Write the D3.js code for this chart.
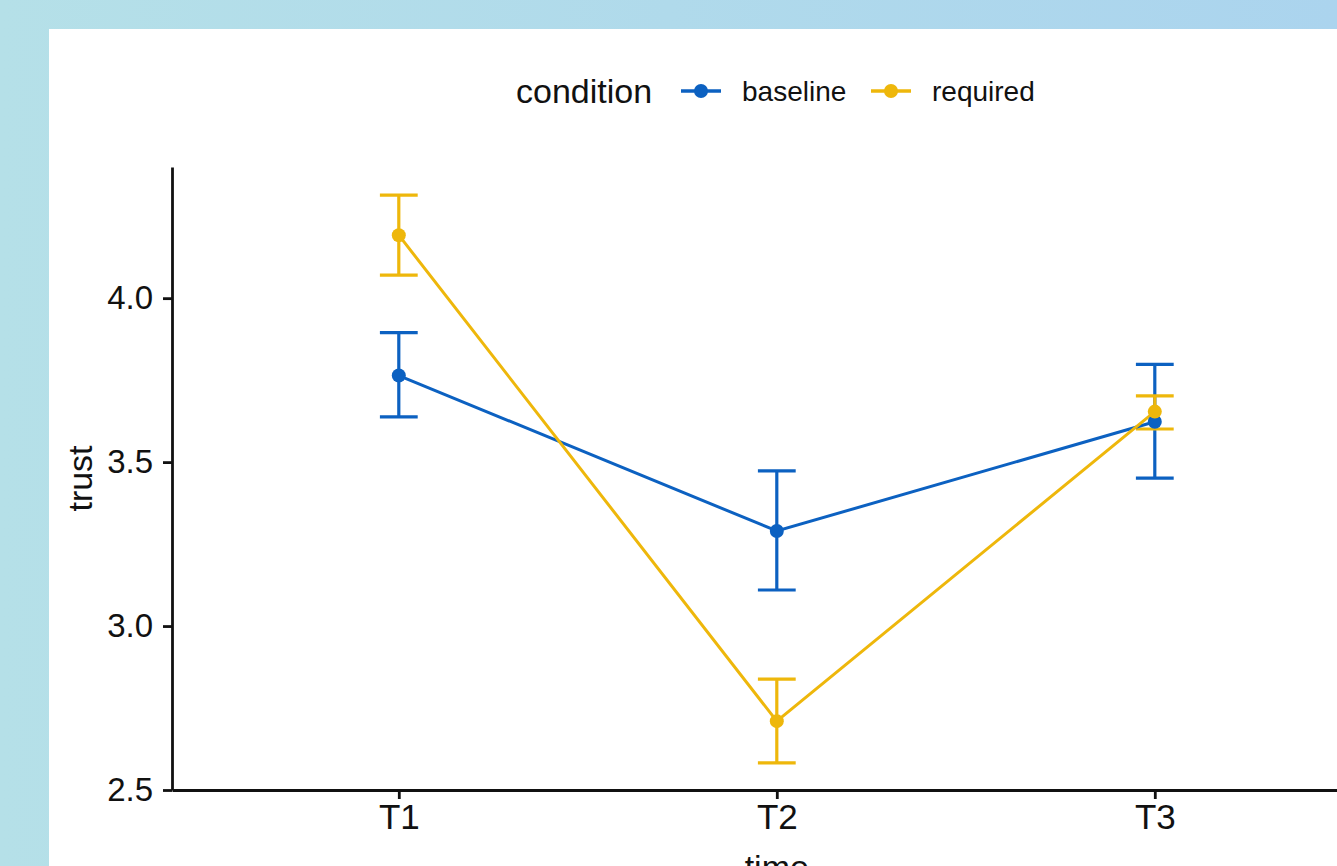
<!DOCTYPE html>
<html>
<head>
<meta charset="utf-8">
<script src="https://cdn.jsdelivr.net/npm/d3@7"></script>
<style>
  html, body { margin: 0; padding: 0; overflow: hidden; }
  svg { display: block; font-family: "Liberation Sans", Arial, Helvetica, sans-serif; }
</style>
</head>
<body>
<svg id="chart"></svg>
<script>
// data
var times = ["T1", "T2", "T3"];
var conditions = ["baseline", "required"];
var baselineMean  = [3.764, 3.290, 3.623];
var baselineLower = [3.638, 3.110, 3.451];
var baselineUpper = [3.895, 3.473, 3.798];
var requiredMean  = [4.192, 2.710, 3.654];
var requiredLower = [4.070, 2.583, 3.601];
var requiredUpper = [4.314, 2.838, 3.702];
var yTicks = [2.5, 3.0, 3.5, 4.0];
var colors = ["#0c61c1", "#eeb70b"];

var W = 1337, H = 866;

var series = [
  { name: conditions[0], color: colors[0], mean: baselineMean, lo: baselineLower, hi: baselineUpper },
  { name: conditions[1], color: colors[1], mean: requiredMean, lo: requiredLower, hi: requiredUpper }
];

var svg = d3.select("#chart").attr("width", W).attr("height", H);

// background: light blue frame, white card
var defs = svg.append("defs");
var grad = defs.append("linearGradient").attr("id", "bg").attr("x1", "0").attr("x2", "1").attr("y1", "0").attr("y2", "0");
grad.append("stop").attr("offset", "0").attr("stop-color", "#b5e0e8");
grad.append("stop").attr("offset", "1").attr("stop-color", "#abd4ee");
svg.append("rect").attr("width", W).attr("height", H).attr("fill", "url(#bg)");
svg.append("rect").attr("x", 49).attr("y", 29).attr("width", W).attr("height", H).attr("fill", "#fff");

var plot = { left: 172, top: 167, bottom: 790, right: 1381.6 };

var x = d3.scalePoint()
  .domain(times)
  .range([plot.left, plot.right])
  .padding(0.6);

var y = d3.scaleLinear()
  .domain([2.5, 4.4])
  .range([plot.bottom, plot.top]);

// axes
var yAxis = svg.append("g")
  .attr("transform", "translate(" + plot.left + ",0)")
  .call(d3.axisLeft(y).tickValues(yTicks).tickFormat(d3.format(".1f")).tickSize(9).tickSizeOuter(0).tickPadding(10));
yAxis.select(".domain").attr("stroke", "#111").attr("stroke-width", 2.8);
yAxis.selectAll(".tick line").attr("stroke", "#111").attr("stroke-width", 2.8);
yAxis.selectAll(".tick text").attr("fill", "#111").style("font-size", "33px");

var xAxis = svg.append("g")
  .attr("transform", "translate(0," + plot.bottom + ")")
  .call(d3.axisBottom(x).tickSize(9).tickSizeOuter(0).tickPadding(5));
xAxis.select(".domain").attr("stroke", "#111").attr("stroke-width", 2.8);
xAxis.selectAll(".tick line").attr("stroke", "#111").attr("stroke-width", 2.8);
xAxis.selectAll(".tick text").attr("fill", "#111").style("font-size", "35px");

// axis titles
svg.append("text")
  .attr("transform", "translate(92," + ((plot.top + plot.bottom) / 2) + ") rotate(-90)")
  .attr("text-anchor", "middle")
  .attr("fill", "#111")
  .style("font-size", "34px")
  .text("trust");

svg.append("text")
  .attr("x", x("T2"))
  .attr("y", 879)
  .attr("text-anchor", "middle")
  .attr("fill", "#111")
  .style("font-size", "34px")
  .text("time");

// error bars
var capHalf = x.step() * 0.05;
series.forEach(function (s) {
  var g = svg.append("g").attr("stroke", s.color).attr("stroke-width", 3.2).attr("fill", "none");
  times.forEach(function (t, i) {
    var cx = x(t);
    g.append("line").attr("x1", cx).attr("x2", cx).attr("y1", y(s.lo[i])).attr("y2", y(s.hi[i]));
    g.append("line").attr("x1", cx - capHalf).attr("x2", cx + capHalf).attr("y1", y(s.lo[i])).attr("y2", y(s.lo[i]));
    g.append("line").attr("x1", cx - capHalf).attr("x2", cx + capHalf).attr("y1", y(s.hi[i])).attr("y2", y(s.hi[i]));
  });
});

// lines
var line = d3.line()
  .x(function (d, i) { return x(times[i]); })
  .y(function (d) { return y(d); });

series.forEach(function (s) {
  svg.append("path")
    .datum(s.mean)
    .attr("d", line)
    .attr("fill", "none")
    .attr("stroke", s.color)
    .attr("stroke-width", 3);
});

// points
series.forEach(function (s) {
  svg.append("g").selectAll("circle")
    .data(s.mean)
    .join("circle")
    .attr("cx", function (d, i) { return x(times[i]); })
    .attr("cy", function (d) { return y(d); })
    .attr("r", 7)
    .attr("fill", s.color);
});

// legend
var legend = svg.append("g").attr("transform", "translate(0,91)");
legend.append("text")
  .attr("x", 516)
  .attr("y", 0)
  .attr("dy", "0.35em")
  .attr("fill", "#111")
  .style("font-size", "34px")
  .text("condition");

var keyX = [681, 871];
var labelX = [742, 932];
series.forEach(function (s, i) {
  legend.append("line")
    .attr("x1", keyX[i]).attr("x2", keyX[i] + 40)
    .attr("y1", 0).attr("y2", 0)
    .attr("stroke", s.color).attr("stroke-width", 3.5);
  legend.append("circle")
    .attr("cx", keyX[i] + 20).attr("cy", 0).attr("r", 7)
    .attr("fill", s.color);
  legend.append("text")
    .attr("x", labelX[i])
    .attr("y", 0)
    .attr("dy", "0.35em")
    .attr("fill", "#111")
    .style("font-size", "28px")
    .text(s.name);
});
</script>
</body>
</html>
